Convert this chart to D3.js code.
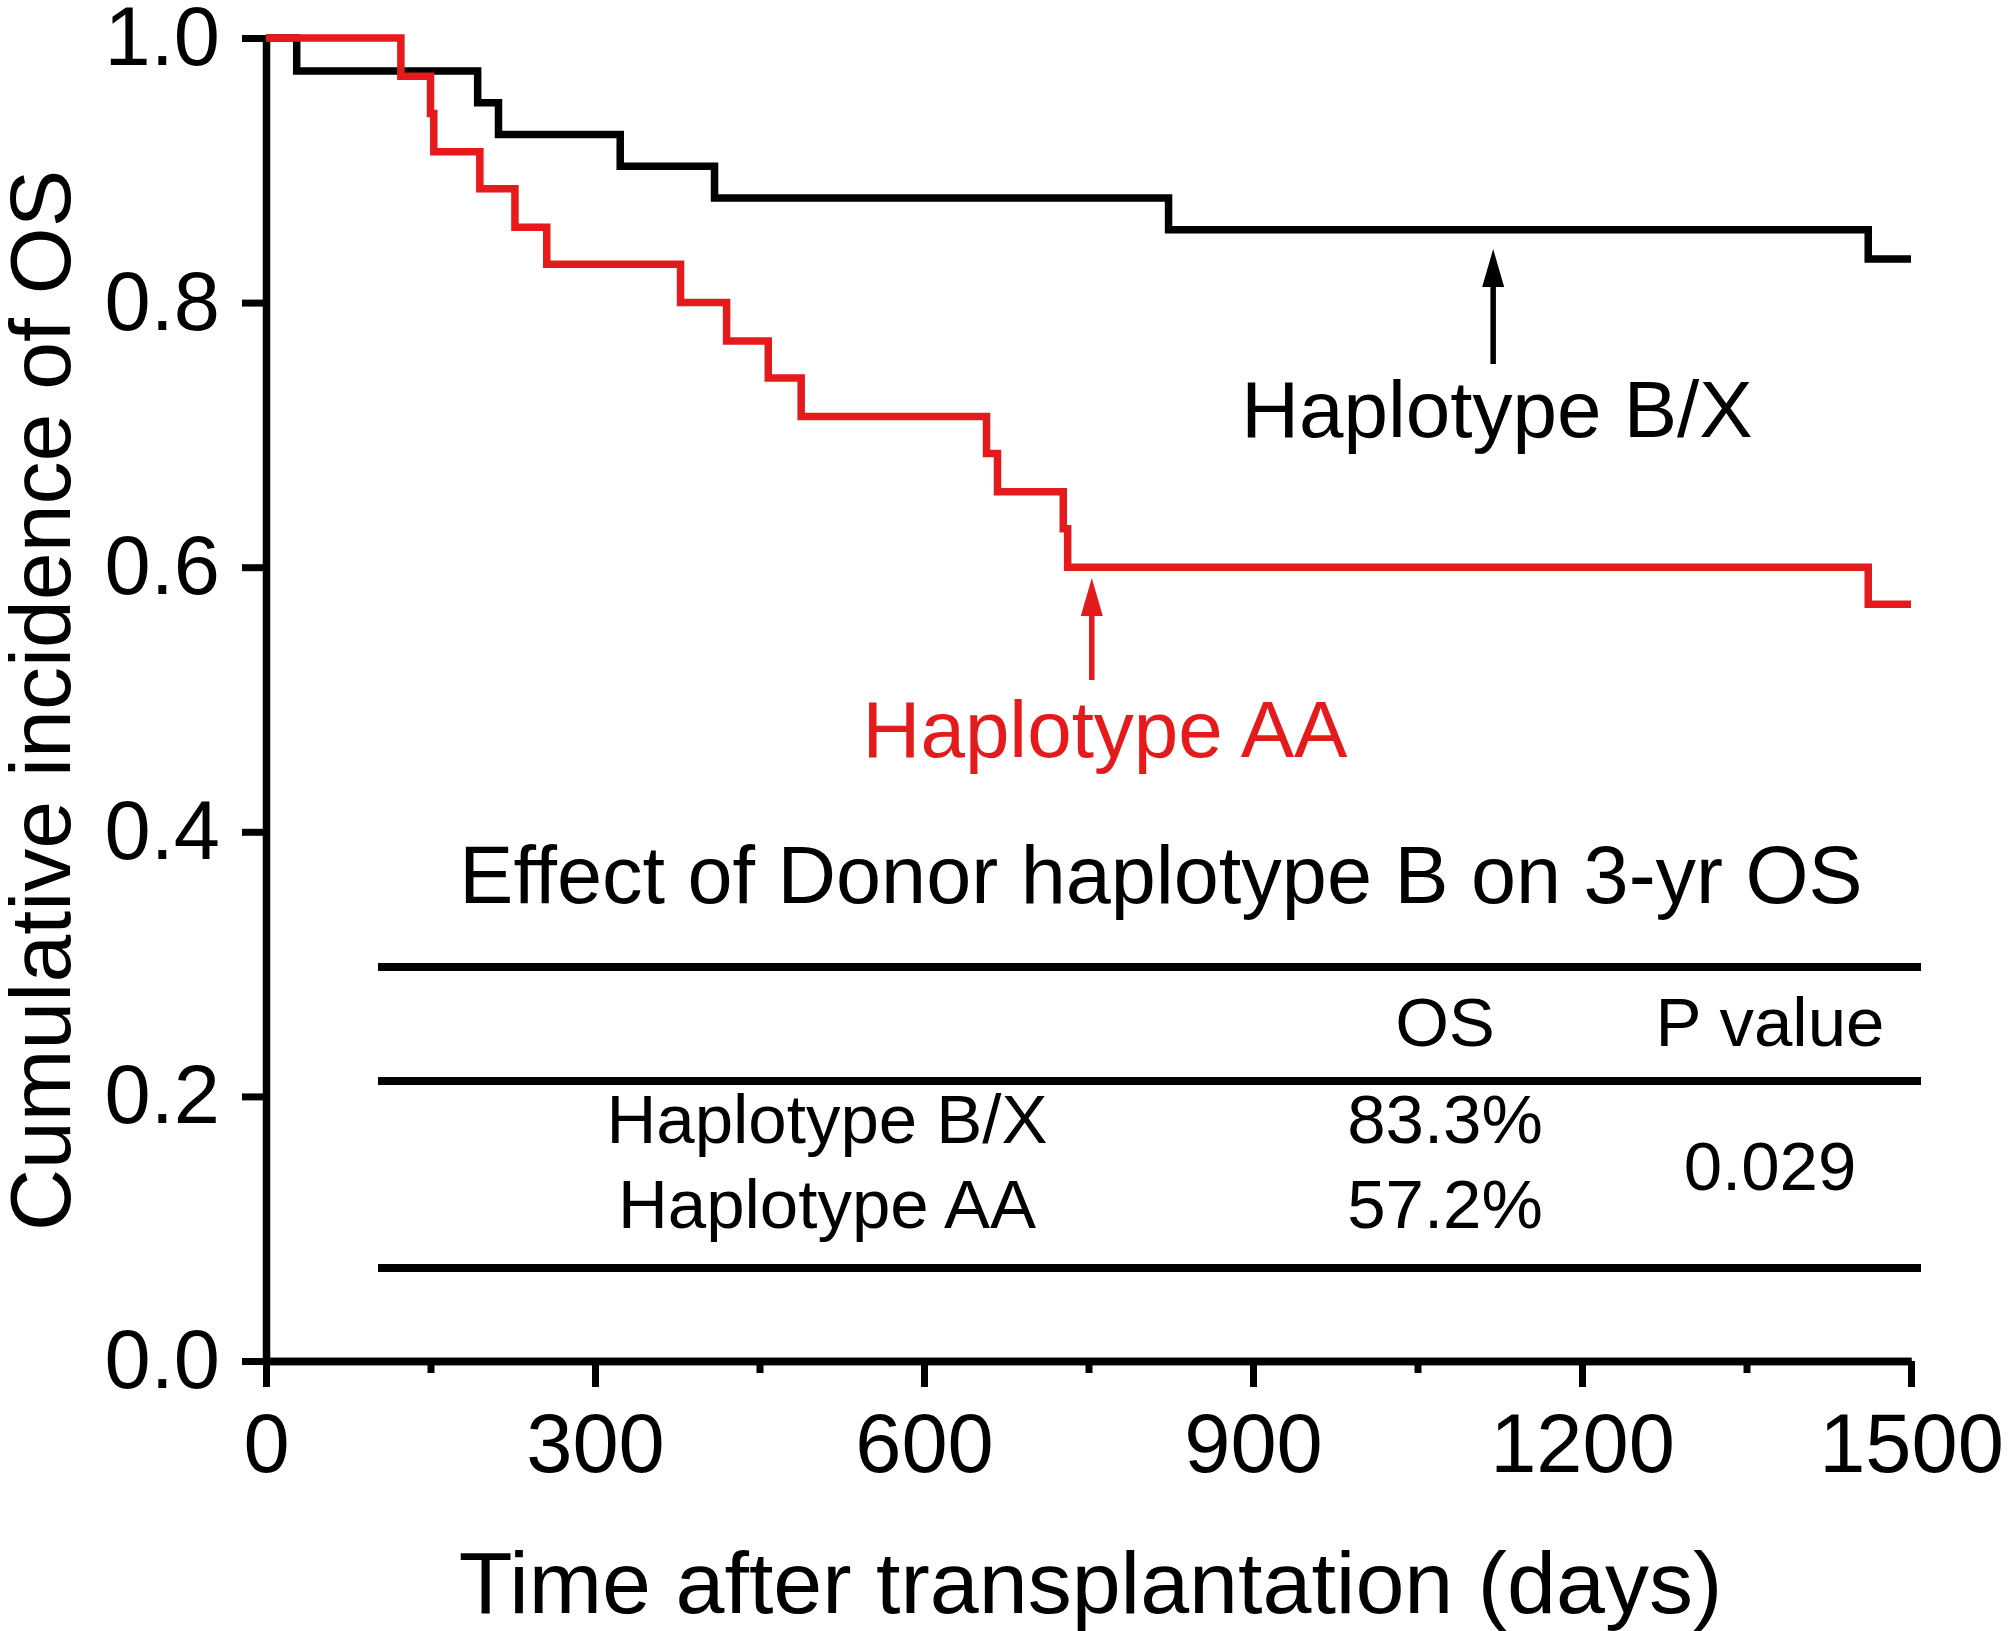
<!DOCTYPE html>
<html>
<head>
<meta charset="utf-8">
<script src="https://cdn.jsdelivr.net/npm/d3@7"></script>
<style>
  body { margin: 0; background: #fff; }
  text { font-family: "Liberation Sans", Arial, sans-serif; }
</style>
</head>
<body>
<svg id="chart" width="2008" height="1631"></svg>
<script>
// Kaplan-Meier steps (days, survival)
var bxDays = [0, 28, 193, 212, 323, 409, 823, 1461];
var bxSurv = [1, 0.975, 0.951, 0.927, 0.903, 0.879, 0.855, 0.833];
var aaDays = [0, 123, 150, 153, 195, 227, 256, 378, 420, 458, 488, 657, 667, 727, 731, 1461];
var aaSurv = [1, 0.971, 0.943, 0.914, 0.886, 0.857, 0.829, 0.800, 0.771, 0.743, 0.714, 0.686, 0.657, 0.629, 0.600, 0.572];
var lastDay = 1500;

var xTicks = [0, 300, 600, 900, 1200, 1500];
var xMinor = [150, 450, 750, 1050, 1350];
var yTicks = [0, 0.2, 0.4, 0.6, 0.8, 1.0];

var tableTitle = 'Effect of Donor haplotype B on 3-yr OS';
var tableHead = ['OS', 'P value'];
var tableGroups = ['Haplotype B/X', 'Haplotype AA'];
var tableOS = ['83.3%', '57.2%'];
var tableP = '0.029';

var RED = '#e41a1c';
var W = 2008, H = 1631;
var margin = {left: 266, top: 38, right: W - 1911, bottom: H - 1361};

var svg = d3.select('#chart');
var x = d3.scaleLinear().domain([0, 1500]).range([margin.left, W - margin.right]);
var y = d3.scaleLinear().domain([0, 1]).range([H - margin.bottom, margin.top]);

// axes
var yAxis = svg.append('g')
  .attr('transform', 'translate(' + margin.left + ',0)')
  .call(d3.axisLeft(y).tickValues(yTicks).tickFormat(d3.format('.1f'))
    .tickSize(24).tickSizeOuter(0).tickPadding(22));

var xMinorAxis = svg.append('g')
  .attr('transform', 'translate(0,' + y(0) + ')')
  .call(d3.axisBottom(x).tickValues(xMinor).tickFormat('').tickSize(12).tickSizeOuter(0));

var xAxis = svg.append('g')
  .attr('transform', 'translate(0,' + y(0) + ')')
  .call(d3.axisBottom(x).tickValues(xTicks).tickFormat(d3.format('d'))
    .tickSize(26).tickSizeOuter(0).tickPadding(26));

[yAxis, xMinorAxis, xAxis].forEach(function (g) {
  g.select('.domain').attr('stroke', '#000').attr('stroke-width', 7.5);
  g.selectAll('.tick line').attr('stroke', '#000').attr('stroke-width', 7);
  g.selectAll('.tick text').attr('fill', '#000')
    .style('font-family', '"Liberation Sans", Arial, sans-serif')
    .style('font-size', '83px');
});

svg.append('text')
  .attr('transform', 'translate(70,' + (y(0.5) + 1) + ') rotate(-90)')
  .attr('text-anchor', 'middle')
  .style('font-size', '86px')
  .text('Cumulative incidence of OS');

svg.append('text')
  .attr('x', x(750) + 2).attr('y', 1613)
  .attr('text-anchor', 'middle')
  .style('font-size', '88px')
  .text('Time after transplantation (days)');

// survival curves
function steps(days, surv) {
  var pts = days.map(function (d, i) { return [d, surv[i]]; });
  pts.push([lastDay, surv[surv.length - 1]]);
  return pts;
}
var line = d3.line()
  .x(function (d) { return x(d[0]); })
  .y(function (d) { return y(d[1]); })
  .curve(d3.curveStepAfter);

svg.append('path').datum(steps(bxDays, bxSurv))
  .attr('d', line).attr('fill', 'none')
  .attr('stroke', '#000').attr('stroke-width', 7.5);
svg.append('path').datum(steps(aaDays, aaSurv))
  .attr('d', line).attr('fill', 'none')
  .attr('stroke', RED).attr('stroke-width', 7.5);

// arrows + curve labels
function arrow(day, from, to, color) {
  var ax = x(day), tip = y(to), base = tip + 38;
  svg.append('line')
    .attr('x1', ax).attr('x2', ax).attr('y1', y(from)).attr('y2', base - 2)
    .attr('stroke', color).attr('stroke-width', 5.5);
  svg.append('path')
    .attr('d', 'M' + ax + ',' + tip + 'L' + (ax + 11) + ',' + base + 'L' + (ax - 11) + ',' + base + 'Z')
    .attr('fill', color);
}
arrow(1119, 0.7536, 0.8405, '#000');
arrow(753, 0.5147, 0.5918, RED);

svg.append('text')
  .attr('x', 1497).attr('y', 437).attr('text-anchor', 'middle')
  .style('font-size', '80px').text('Haplotype B/X');
svg.append('text')
  .attr('x', 1105).attr('y', 757).attr('text-anchor', 'middle')
  .attr('fill', RED)
  .style('font-size', '80px').text('Haplotype AA');

// inset table
var tbl = svg.append('g');
tbl.append('text').attr('x', 1161).attr('y', 903).attr('text-anchor', 'middle')
  .style('font-size', '81px').text(tableTitle);

[967, 1081, 1268].forEach(function (ly) {
  tbl.append('line').attr('x1', 378).attr('x2', 1921).attr('y1', ly).attr('y2', ly)
    .attr('stroke', '#000').attr('stroke-width', 8);
});

var colX = [827, 1445, 1770];
tbl.selectAll('text.head').data(tableHead).enter().append('text')
  .attr('class', 'head')
  .attr('x', function (d, i) { return colX[i + 1]; })
  .attr('y', 1046).attr('text-anchor', 'middle')
  .style('font-size', '69px').text(function (d) { return d; });

var rowY = [1143, 1228];
tableGroups.forEach(function (g, i) {
  tbl.append('text').attr('x', colX[0]).attr('y', rowY[i]).attr('text-anchor', 'middle')
    .style('font-size', '69px').text(g);
  tbl.append('text').attr('x', colX[1]).attr('y', rowY[i]).attr('text-anchor', 'middle')
    .style('font-size', '69px').text(tableOS[i]);
});
tbl.append('text').attr('x', colX[2]).attr('y', 1190).attr('text-anchor', 'middle')
  .style('font-size', '69px').text(tableP);
</script>
</body>
</html>
